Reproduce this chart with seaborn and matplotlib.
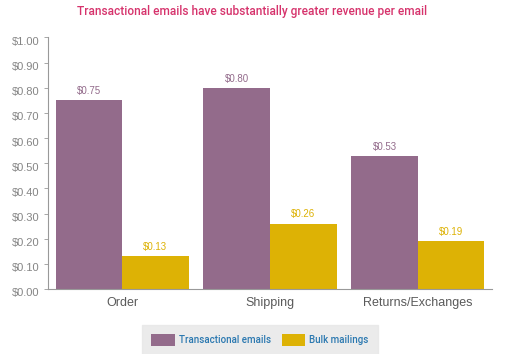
import matplotlib
matplotlib.use("Agg")
import matplotlib.pyplot as plt
import matplotlib.transforms as mtransforms
import seaborn as sns
import pandas as pd

categories = ["Order", "Shipping", "Returns/Exchanges"]
series = ["Transactional emails", "Bulk mailings"]
transactional = [0.75, 0.80, 0.53]
bulk = [0.13, 0.26, 0.19]

purple = "#936b8b"
gold = "#ddb205"

df = pd.DataFrame({
    "category": categories * 2,
    "type": [series[0]] * 3 + [series[1]] * 3,
    "value": transactional + bulk,
})

sns.set_style("white")
plt.rcParams['font.family'] = ['Liberation Sans', 'DejaVu Sans']

fig = plt.figure(figsize=(5.25, 3.54), dpi=100)
ax = fig.add_axes([0.092, 0.1836, 0.8446, 0.7105])

sns.barplot(data=df, x="category", y="value", hue="type", order=categories,
            hue_order=series, palette=[purple, gold], width=0.9,
            saturation=1, linewidth=0, ax=ax, legend=True)

for cont, col in zip(ax.containers, [purple, gold]):
    ax.bar_label(cont, labels=[f"${v:.2f}" for v in cont.datavalues],
                 padding=3, fontsize=7, color=col)

ax.set_ylim(0, 1.0)
ax.set_xlim(-0.5, 2.5)
ax.set_yticks([i / 10 for i in range(11)])
ax.set_yticklabels([f"${i / 10:.2f}" for i in range(11)], fontsize=8, color="#858585")
ax.tick_params(axis="x", labelsize=9, colors="#5a5a5a", length=0, pad=6)
ax.tick_params(axis="y", left=True, length=3, color="#999999", width=0.6)
# y labels sit a little below their ticks in the original
shift = mtransforms.ScaledTranslation(0, -2.5 / 72, fig.dpi_scale_trans)
for lbl in ax.get_yticklabels():
    lbl.set_transform(lbl.get_transform() + shift)
ax.set_xlabel("")
ax.set_ylabel("")
for s in ["top", "right"]:
    ax.spines[s].set_visible(False)
for s in ["left", "bottom"]:
    ax.spines[s].set_color("#999999")
    ax.spines[s].set_linewidth(0.8)

handles, labels = ax.get_legend_handles_labels()
ax.get_legend().remove()
leg = fig.legend(handles, labels, loc="upper center",
                 bbox_to_anchor=(260 / 525, 1 - 323 / 354), ncol=2,
                 frameon=True, handlelength=2.37, handleheight=1.54,
                 columnspacing=1.1, handletextpad=0.45, borderpad=0.65,
                 prop={"family": "Roboto", "weight": "medium", "size": 7})
leg.get_frame().set_facecolor("#e6e6e6")
leg.get_frame().set_edgecolor("#e6e6e6")
leg.get_frame().set_boxstyle("square")
for t in leg.get_texts():
    t.set_color("#2a78b0")

fig.text(252 / 525, 1 - 12 / 354, "Transactional emails have substantially greater revenue per email",
         ha="center", va="center", fontsize=8.6, color="#d6336c",
         family="Roboto", weight="medium")

fig.savefig("out.png", dpi=100)
